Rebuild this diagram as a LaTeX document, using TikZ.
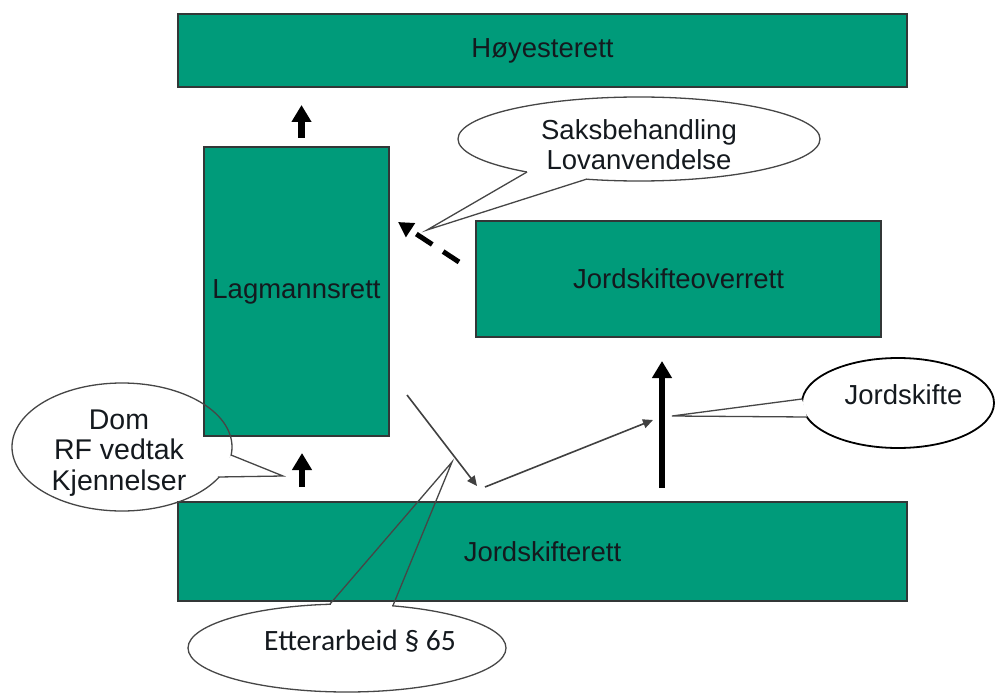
\documentclass[tikz,border=0pt]{standalone}
\usepackage{fontspec}
\setmainfont{Liberation Sans}
\newfontfamily\calibrifont{Carlito}
\usetikzlibrary{arrows.meta,shapes.geometric}
\definecolor{courtfill}{RGB}{0,155,122}
\definecolor{courtedge}{RGB}{50,55,55}
\definecolor{bubbleedge}{RGB}{70,70,70}
\definecolor{txtdark}{RGB}{20,25,30}
\begin{document}
\begin{tikzpicture}[x=1pt,y=-1pt,
  court/.style={rectangle,draw=courtedge,line width=1.2pt,fill=courtfill,inner sep=0pt,
    font=\fontsize{27.5}{33}\selectfont,text=txtdark},
  bubblefill/.style={ellipse,fill=white,inner sep=0pt},
  bubbleline/.style={ellipse,draw=bubbleedge,line width=1.3pt,inner sep=0pt},
  tailline/.style={draw=bubbleedge,line width=1.3pt},
  tailpatch/.style={fill=white,draw=none},
  linetext/.style={anchor=base,inner sep=0pt,font=\fontsize{27.5}{33}\selectfont,text=txtdark},
  bigarrow/.style={draw=black,line width=6.5pt,-{Triangle[width=19pt,length=17pt]}},
  thinarrow/.style={draw=black!75,line width=1.6pt,-{Triangle[width=9pt,length=10pt]}},
  dasharrow/.style={draw=black,line width=5pt,dash pattern=on 19pt off 13pt,-{Triangle[width=16pt,length=15pt]}}
]
\useasboundingbox[fill=white] (0,0) rectangle (995,695);

% Dom callout background (under the Lagmannsrett box)
\node[bubblefill,minimum width=220pt,minimum height=128pt] (domfill) at (122,447) {};

% Courts
\node[court,minimum width=729pt,minimum height=73pt] (hoy) at (542.5,50.5) {Høyesterett};
\node[court,minimum width=185pt,minimum height=289pt] (lag) at (296.5,291.5) {Lagmannsrett};
\node[court,minimum width=405pt,minimum height=116pt] (jso) at (678.5,279) {Jordskifteoverrett};
\node[court,minimum width=729pt,minimum height=99pt] (jsr) at (542.5,551.5) {Jordskifterett};

% Dom callout outline and tail
\node[bubbleline,minimum width=220pt,minimum height=128pt] (dom) at (122,447) {};
\coordinate (domA) at (231,455);
\coordinate (domB) at (218,477);
\coordinate (domTip) at (283,476);
\fill[tailpatch] (domA) -- (domTip) -- (domB) -- cycle;
\draw[tailline] (domA) -- (domTip) -- (domB);
\node[linetext,font=\fontsize{28.5}{34}\selectfont] (dom1) at (119,429) {Dom};
\node[linetext,font=\fontsize{28.5}{34}\selectfont] (dom2) at (119,459.5) {RF vedtak};
\node[linetext,font=\fontsize{28.5}{34}\selectfont] (dom3) at (119,490) {Kjennelser};

% Saksbehandling callout
\node[bubbleline,fill=white,minimum width=362pt,minimum height=84pt] (sak) at (639,139) {};
\coordinate (sakA) at (527,172);
\coordinate (sakB) at (587,179);
\coordinate (sakTip) at (427,230);
\fill[tailpatch] (sakA) -- (sakTip) -- (sakB) -- (587,170) -- (527,164) -- cycle;
\draw[tailline] (sakA) -- (sakTip) -- (sakB);
\node[linetext] (sak1) at (639,140) {Saksbehandling};
\node[linetext] (sak2) at (639,170) {Lovanvendelse};

% Jordskifte callout
\node[ellipse,draw=black,line width=1.8pt,fill=white,inner sep=0pt,minimum width=192pt,minimum height=90pt] (js) at (898,403) {};
\coordinate (jsA) at (802,399);
\coordinate (jsB) at (807,417);
\coordinate (jsTip) at (672,416);
\fill[tailpatch] (jsA) -- (jsTip) -- (jsB) -- cycle;
\draw[tailline] (jsA) -- (jsTip) -- (jsB);
\node[linetext] (js1) at (903.5,404) {Jordskifte};

% Etterarbeid callout
\node[bubbleline,fill=white,minimum width=318pt,minimum height=88pt] (ett) at (347,648) {};
\coordinate (ettA) at (330,604);
\coordinate (ettB) at (393,605.5);
\coordinate (ettTip) at (452,462);
\fill[tailpatch] (331,603) rectangle (392,608);
\draw[tailline] (ettA) -- (ettTip) -- (ettB);
\node[anchor=base,inner sep=0pt,font=\calibrifont\fontsize{29.5}{35}\selectfont,text=txtdark] (ett1) at (360,650) {Etterarbeid § 65};

% Arrows
\coordinate (upAs) at (301.5,138);
\coordinate (upAe) at (301.5,105);
\draw[bigarrow] (upAs) -- (upAe);
\coordinate (upBs) at (302,487);
\coordinate (upBe) at (302,453);
\draw[bigarrow] (upBs) -- (upBe);
\coordinate (upCs) at (662,488);
\coordinate (upCe) at (662,361);
\draw[bigarrow] (upCs) -- (upCe);

\coordinate (dashS) at (459,262);
\coordinate (dashE) at (398,222);
\draw[dasharrow] (dashS) -- (dashE);

\coordinate (thinAs) at (407,395);
\coordinate (thinAe) at (477,486);
\draw[thinarrow] (thinAs) -- (thinAe);
\coordinate (thinBs) at (485,487);
\coordinate (thinBe) at (653,420);
\draw[thinarrow] (thinBs) -- (thinBe);
\end{tikzpicture}
\end{document}
